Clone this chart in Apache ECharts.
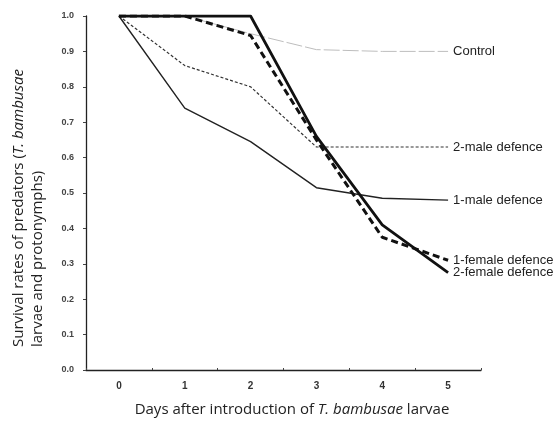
<!DOCTYPE html>
<html>
<head>
<meta charset="utf-8">
<script src="https://cdn.jsdelivr.net/npm/echarts@6/dist/echarts.min.js"></script>
<style>html,body{margin:0;padding:0;background:#fff;}#c{width:559px;height:421px;}</style>
</head>
<body>
<div id="c"></div>
<script>
var days = ['0', '1', '2', '3', '4', '5'];
var yTicks = [0.0, 0.1, 0.2, 0.3, 0.4, 0.5, 0.6, 0.7, 0.8, 0.9, 1.0];
var seriesNames = ['Control', '2-male defence', '1-male defence', '1-female defence', '2-female defence'];
var control = [1.0, 1.0, 0.95, 0.905, 0.90, 0.90];
var male2 = [1.0, 0.86, 0.80, 0.63, 0.63, 0.63];
var male1 = [1.0, 0.74, 0.645, 0.515, 0.485, 0.48];
var female1 = [1.0, 1.0, 0.945, 0.65, 0.375, 0.31];
var female2 = [1.0, 1.0, 1.0, 0.66, 0.41, 0.275];

var chart = echarts.init(document.getElementById('c'), null, {renderer: 'canvas'});
var labelFont = 'Liberation Sans';
function endLbl() {
  return {show: true, formatter: '{a}', distance: 5, fontSize: 13, color: '#222', fontFamily: labelFont};
}
var option = {
  backgroundColor: '#fff',
  animation: false,
  grid: {left: 86, right: 78, top: 16, bottom: 51, containLabel: false},
  xAxis: {
    type: 'category',
    data: days,
    boundaryGap: true,
    axisLine: {lineStyle: {color: '#222', width: 1.3}},
    axisTick: {show: true, length: 2, inside: true, lineStyle: {color: '#444'}},
    axisLabel: {margin: 11, fontSize: 10, color: '#333', fontWeight: 'bold', fontFamily: labelFont}
  },
  yAxis: {
    type: 'value',
    min: yTicks[0], max: yTicks[yTicks.length - 1], interval: 0.1,
    axisLine: {show: true, lineStyle: {color: '#222', width: 1.3}},
    axisTick: {show: true, length: 3, lineStyle: {color: '#444'}},
    splitLine: {show: false},
    axisLabel: {margin: 12, fontSize: 9, color: '#444', fontWeight: 'bold', fontFamily: labelFont,
      formatter: function (v) { return v.toFixed(1); }}
  },
  series: [
    {name: seriesNames[0], type: 'line', data: control, symbol: 'none', z: 1,
     lineStyle: {color: '#bdbdbd', width: 1, type: [16, 3]}, endLabel: endLbl()},
    {name: seriesNames[1], type: 'line', data: male2, symbol: 'none', z: 2,
     lineStyle: {color: '#333', width: 1.2, type: [3, 2]}, endLabel: endLbl()},
    {name: seriesNames[2], type: 'line', data: male1, symbol: 'none', z: 3,
     lineStyle: {color: '#222', width: 1.4, type: 'solid'}, endLabel: endLbl()},
    {name: seriesNames[3], type: 'line', data: female1, symbol: 'none', z: 4,
     lineStyle: {color: '#111', width: 3, type: [7, 4]}, endLabel: endLbl()},
    {name: seriesNames[4], type: 'line', data: female2, symbol: 'none', z: 5,
     lineStyle: {color: '#111', width: 2.8, type: 'solid'}, endLabel: endLbl()}
  ],
  graphic: [
    {type: 'text', x: 19, y: 347, rotation: Math.PI / 2,
     style: {text: '{n|Survival rates of predators (}{i|T. bambusae}', align: 'left', verticalAlign: 'middle',
       rich: {n: {fontFamily: 'Open Sans', fontSize: 15, fill: '#222'}, i: {fontFamily: 'Open Sans', fontSize: 15, fontStyle: 'italic', fill: '#222'}}}},
    {type: 'text', x: 38, y: 347, rotation: Math.PI / 2,
     style: {text: 'larvae and protonymphs)', align: 'left', verticalAlign: 'middle',
       font: '15px "Open Sans"', fill: '#222'}},
    {type: 'text', x: 292, y: 410,
     style: {text: '{n|Days after introduction of }{i|T. bambusae}{n| larvae}', align: 'center', verticalAlign: 'middle',
       rich: {n: {fontFamily: 'Open Sans', fontSize: 15, fill: '#222'}, i: {fontFamily: 'Open Sans', fontSize: 15, fontStyle: 'italic', fill: '#222'}}}}
  ]
};
chart.setOption(option);
</script>
</body>
</html>
